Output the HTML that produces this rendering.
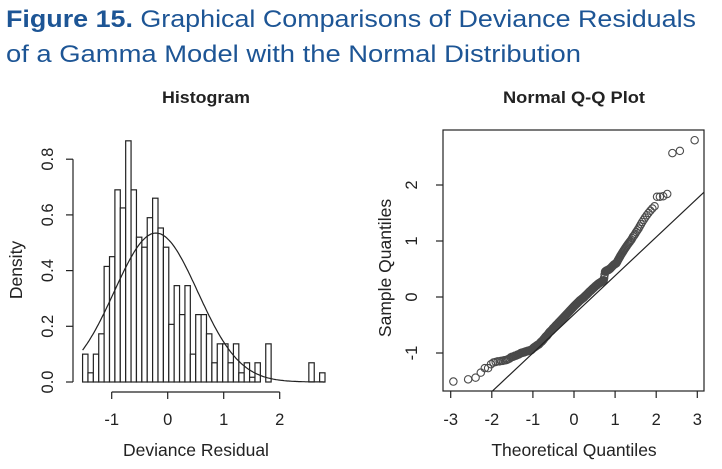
<!DOCTYPE html>
<html><head><meta charset="utf-8"><style>
html,body{margin:0;padding:0;background:#fff;}
svg{display:block;font-family:"Liberation Sans",Arial,sans-serif;}
</style></head><body>
<svg id="fig" width="722" height="469" viewBox="0 0 722 469">
<text x="6" y="27" font-size="24" fill="#1d5595" textLength="690" lengthAdjust="spacingAndGlyphs"><tspan font-weight="bold">Figure 15.</tspan>   Graphical Comparisons of Deviance Residuals</text>
<text x="6" y="62" font-size="24" fill="#1d5595" textLength="575" lengthAdjust="spacingAndGlyphs">of a Gamma Model with the Normal Distribution</text>
<text x="206" y="103" font-size="17" font-weight="bold" text-anchor="middle" fill="#222" textLength="88" lengthAdjust="spacingAndGlyphs">Histogram</text>
<text x="574" y="103" font-size="17" font-weight="bold" text-anchor="middle" fill="#222" textLength="142" lengthAdjust="spacingAndGlyphs">Normal Q-Q Plot</text>
<g id="hist"></g>
<g id="qq"></g>
</svg>
<script>
// Histogram data
const binStart = -1.52;
const binWidth = 0.0962;
const densities = [0.10,0.033,0.10,0.173,0.415,0.45,0.69,0.625,0.866,0.69,0.52,0.484,0.59,0.66,0.553,0.484,0.207,0.346,0.242,0.346,0.10,0.242,0.242,0.173,0.069,0.137,0.137,0.069,0.137,0.033,0.069,0.017,0.069,0,0.137,0,0,0,0,0,0,0,0.069,0,0.033];
const normMean = -0.21;
const normSd = 0.746;
const histXTicks = [-1,0,1,2];
const histYTicks = [0,0.2,0.4,0.6,0.8];
const histYTickLabels = ["0.0","0.2","0.4","0.6","0.8"];
// QQ data (sorted sample residuals)
const sampleQuantiles = [
-1.51,-1.47,-1.44,-1.35,-1.27,-1.27,-1.2,-1.17,-1.16,-1.15,
-1.15,-1.14,-1.14,-1.13,-1.13,-1.12,-1.11,-1.1,-1.08,-1.07,
-1.07,-1.06,-1.05,-1.05,-1.04,-1.03,-1.03,-1.02,-1.01,-1.0,
-1.0,-0.99,-0.99,-0.99,-0.98,-0.98,-0.97,-0.97,-0.97,-0.96,
-0.96,-0.96,-0.95,-0.95,-0.95,-0.94,-0.93,-0.92,-0.91,-0.9,
-0.9,-0.89,-0.88,-0.88,-0.87,-0.86,-0.86,-0.85,-0.85,-0.84,
-0.83,-0.82,-0.81,-0.8,-0.8,-0.79,-0.78,-0.77,-0.76,-0.75,
-0.74,-0.73,-0.72,-0.71,-0.7,-0.7,-0.69,-0.68,-0.67,-0.66,
-0.65,-0.64,-0.63,-0.62,-0.62,-0.61,-0.6,-0.6,-0.59,-0.58,
-0.57,-0.56,-0.56,-0.55,-0.54,-0.54,-0.53,-0.52,-0.51,-0.51,
-0.5,-0.49,-0.49,-0.48,-0.47,-0.46,-0.46,-0.45,-0.44,-0.44,
-0.43,-0.42,-0.42,-0.41,-0.4,-0.4,-0.39,-0.38,-0.38,-0.37,
-0.36,-0.36,-0.35,-0.34,-0.34,-0.33,-0.32,-0.32,-0.31,-0.3,
-0.3,-0.29,-0.28,-0.28,-0.27,-0.26,-0.26,-0.25,-0.24,-0.24,
-0.23,-0.22,-0.22,-0.21,-0.2,-0.2,-0.19,-0.18,-0.18,-0.17,
-0.16,-0.16,-0.15,-0.15,-0.14,-0.13,-0.13,-0.12,-0.12,-0.11,
-0.1,-0.1,-0.09,-0.09,-0.08,-0.07,-0.07,-0.06,-0.06,-0.05,
-0.05,-0.04,-0.04,-0.03,-0.03,-0.02,-0.02,-0.01,-0.01,0.0,
0.01,0.01,0.02,0.03,0.03,0.04,0.04,0.05,0.06,0.06,
0.07,0.08,0.08,0.09,0.1,0.1,0.11,0.11,0.12,0.13,
0.13,0.14,0.15,0.15,0.16,0.16,0.17,0.18,0.18,0.19,
0.2,0.2,0.21,0.21,0.22,0.23,0.23,0.24,0.24,0.25,
0.25,0.26,0.26,0.27,0.27,0.28,0.28,0.29,0.29,0.3,
0.34,0.4,0.45,0.46,0.46,0.47,0.47,0.48,0.48,0.48,
0.49,0.5,0.5,0.51,0.52,0.53,0.54,0.55,0.56,0.57,
0.58,0.58,0.59,0.6,0.6,0.62,0.64,0.66,0.68,0.7,
0.72,0.74,0.76,0.78,0.8,0.82,0.84,0.86,0.88,0.9,
0.92,0.94,0.96,0.98,1.0,1.02,1.05,1.08,1.1,1.13,
1.16,1.19,1.22,1.26,1.3,1.34,1.38,1.42,1.46,1.5,
1.54,1.58,1.62,1.79,1.79,1.8,1.84,2.57,2.61,2.8];
const qqLineIntercept = -0.31;
const qqLineSlope = 0.69;
const qqXTicks = [-3,-2,-1,0,1,2,3];
const qqYTicks = [-1,0,1,2];

const NS = "http://www.w3.org/2000/svg";
function mk(parent, tag, attrs, text){
  const e = document.createElementNS(NS, tag);
  for (const k in attrs) e.setAttribute(k, attrs[k]);
  if (text !== undefined) e.textContent = text;
  parent.appendChild(e);
  return e;
}
const TF = 16.5, AF = 17.5;
// Histogram axes
const hx = v => 167.7 + v*56;
const hy = d => 382 - d*278.5;
const H = document.getElementById('hist');
densities.forEach((d,i)=>{
  const x0 = hx(binStart + i*binWidth), x1 = hx(binStart + (i+1)*binWidth);
  const r = mk(H,'rect',{x:x0,y:hy(d),width:x1-x0,height:hy(0)-hy(d),fill:'#fff',stroke:'#222','stroke-width':1.2});
  
  
});
let pts = [];
for (let v=-1.52; v<=2.81; v+=0.02){
  const d = Math.exp(-0.5*Math.pow((v-normMean)/normSd,2))/(normSd*Math.sqrt(2*Math.PI));
  pts.push(hx(v).toFixed(1)+','+hy(d).toFixed(1));
}
const curve = mk(H,'polyline',{points:pts.join(' '),fill:'none',stroke:'#222','stroke-width':1.2});


const hyAxis = mk(H,'g',{});


mk(hyAxis,'line',{x1:73,x2:73,y1:hy(histYTicks[0]),y2:hy(histYTicks[histYTicks.length-1]),stroke:'#222','stroke-width':1.2});
histYTicks.forEach((t,i)=>{
  mk(hyAxis,'line',{x1:66,x2:73,y1:hy(t),y2:hy(t),stroke:'#222','stroke-width':1.2});
  mk(hyAxis,'text',{x:0,y:0,'font-size':TF,'text-anchor':'middle',fill:'#222',transform:`translate(53,${hy(t)}) rotate(-90)`},histYTickLabels[i]);
});
const hxAxis = mk(H,'g',{});


mk(hxAxis,'line',{x1:hx(histXTicks[0]),x2:hx(histXTicks[histXTicks.length-1]),y1:392,y2:392,stroke:'#222','stroke-width':1.2});
histXTicks.forEach(t=>{
  mk(hxAxis,'line',{x1:hx(t),x2:hx(t),y1:392,y2:399,stroke:'#222','stroke-width':1.2});
  mk(hxAxis,'text',{x:hx(t),y:425,'font-size':TF,'text-anchor':'middle',fill:'#222'},String(t));
});
const hxt = mk(H,'text',{x:196,y:456,'font-size':AF,'text-anchor':'middle',fill:'#222'},'Deviance Residual');


const hyt = mk(H,'text',{x:0,y:0,'font-size':AF,'text-anchor':'middle',fill:'#222',transform:'translate(22,270) rotate(-90)'},'Density');



// QQ plot axes
const qx = t => 574 + t*41.1;
const qy = s => 297 - s*56;
const Q = document.getElementById('qq');
const clip = mk(Q,'clipPath',{id:'qqclip'});
mk(clip,'rect',{x:443,y:130,width:261,height:261});
const box = mk(Q,'rect',{x:443,y:130,width:261,height:261,fill:'none',stroke:'#222','stroke-width':1.2});


function qnorm(p){
  const a=[-39.6968302866538,220.946098424521,-275.928510446969,138.357751867269,-30.6647980661472,2.50662827745924];
  const b=[-54.4760987982241,161.585836858041,-155.698979859887,66.8013118877197,-13.2806815528857];
  const c=[-0.00778489400243029,-0.322396458041136,-2.40075827716184,-2.54973253934373,4.37466414146497,2.93816398269878];
  const d=[0.00778469570904146,0.32246712907004,2.445134137143,3.75440866190742];
  const pl=0.02425;
  if(p<pl){const q=Math.sqrt(-2*Math.log(p));return (((((c[0]*q+c[1])*q+c[2])*q+c[3])*q+c[4])*q+c[5])/((((d[0]*q+d[1])*q+d[2])*q+d[3])*q+1);}
  if(p>1-pl){const q=Math.sqrt(-2*Math.log(1-p));return -(((((c[0]*q+c[1])*q+c[2])*q+c[3])*q+c[4])*q+c[5])/((((d[0]*q+d[1])*q+d[2])*q+d[3])*q+1);}
  const q=p-0.5,r=q*q;return (((((a[0]*r+a[1])*r+a[2])*r+a[3])*r+a[4])*r+a[5])*q/(((((b[0]*r+b[1])*r+b[2])*r+b[3])*r+b[4])*r+1);
}
const n = sampleQuantiles.length;
const sorted = sampleQuantiles.slice().sort((a,b)=>a-b);
const pg = mk(Q,'g',{});


sorted.forEach((s,i)=>{
  const t = qnorm((i+0.5)/n);
  const c = mk(pg,'circle',{cx:qx(t),cy:qy(s),r:3.7,fill:'none',stroke:'#4a4a4a','stroke-width':1.1});
  
  
});
const ql = mk(Q,'line',{x1:qx(-4),y1:qy(qqLineIntercept-4*qqLineSlope),x2:qx(4),y2:qy(qqLineIntercept+4*qqLineSlope),stroke:'#222','stroke-width':1.2,'clip-path':'url(#qqclip)'});


const qxa = mk(Q,'g',{});


qqXTicks.forEach(t=>{
  mk(qxa,'line',{x1:qx(t),x2:qx(t),y1:391,y2:398,stroke:'#222','stroke-width':1.2});
  mk(qxa,'text',{x:qx(t),y:425,'font-size':TF,'text-anchor':'middle',fill:'#222'},String(t));
});
const qya = mk(Q,'g',{});


qqYTicks.forEach(t=>{
  mk(qya,'line',{x1:436,x2:443,y1:qy(t),y2:qy(t),stroke:'#222','stroke-width':1.2});
  mk(qya,'text',{x:0,y:0,'font-size':TF,'text-anchor':'middle',fill:'#222',transform:`translate(417,${qy(t)}) rotate(-90)`},String(t));
});
const qxt = mk(Q,'text',{x:574,y:456,'font-size':AF,'text-anchor':'middle',fill:'#222'},'Theoretical Quantiles');


const qyt = mk(Q,'text',{x:0,y:0,'font-size':AF,'text-anchor':'middle',fill:'#222',transform:'translate(391,268) rotate(-90)'},'Sample Quantiles');


</script>
</body></html>
